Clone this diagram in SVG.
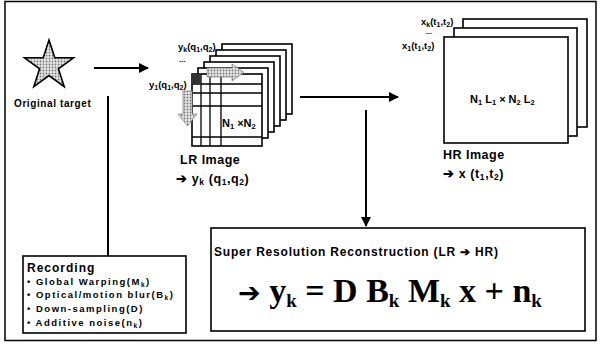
<svg xmlns="http://www.w3.org/2000/svg" width="600" height="347" viewBox="0 0 600 347">
<style>
.lbl{font-family:"Liberation Sans",Arial,sans-serif;font-weight:bold;fill:#000}
.page{fill:#fff;stroke:#000;stroke-width:1.6}
.grid{stroke:#000;stroke-width:1.3;fill:none}
.box{fill:#fff;stroke:#000;stroke-width:1.6}
.conn{stroke:#000;stroke-width:2;fill:none}
.frm{font-family:"Liberation Serif","Times New Roman",serif;font-weight:bold;fill:#000}
.rec{font-size:9.5px;letter-spacing:1.5px}
</style>
<defs>
<marker id="ah" viewBox="0 0 10 10" refX="9" refY="5" markerWidth="5" markerHeight="5" orient="auto" markerUnits="strokeWidth">
<path d="M0,0 L10,5 L0,10 z" fill="#000"/>
</marker>
<pattern id="dots" width="3" height="3" patternUnits="userSpaceOnUse">
<rect width="3" height="3" fill="#e6e6e6"/>
<circle cx="1.5" cy="1.5" r="0.9" fill="#777"/>
</pattern>
</defs>
<rect x="5" y="1.5" width="591" height="339" fill="#fff" stroke="#000" stroke-width="1.5"/>

<g id="target">
<polygon points="49,40 54.8,57.8 73.5,57.8 58.4,68.8 64.2,86.6 49,75.6 33.8,86.6 39.6,68.8 24.5,57.8 43.2,57.8" fill="url(#dots)" stroke="#000" stroke-width="1.6"/>
<text class="lbl" x="14" y="107" font-size="10" letter-spacing="0.6">Original target</text>
</g>

<g id="lr-image">
<rect class="page" x="222" y="44" width="70" height="70"/>
<rect class="page" x="216" y="50" width="70" height="70"/>
<rect class="page" x="210" y="56" width="70" height="70"/>
<rect class="page" x="204" y="62" width="70" height="70"/>
<rect class="page" x="198" y="68" width="70" height="70"/>
<rect class="page" x="192" y="74" width="70" height="72"/>
<path class="grid" d="M201,74V146M210,74V146M221,74V146M192,84H262M192,93H262M192,106H262M192,137H262"/>
<rect x="192" y="74" width="9" height="10" fill="#333"/>
<polygon points="207,68 232,68 232,64 244,72.5 232,81 232,77 207,77" fill="url(#dots)" stroke="#888" stroke-width="0.8"/>
<polygon points="183,91 192,91 192,114 197,114 187.5,126 178,114 183,114" fill="url(#dots)" stroke="#888" stroke-width="0.8"/>
<text class="lbl" x="222" y="127" font-size="11">N<tspan font-size="7.5" dy="2">1</tspan><tspan dy="-2"> ×N</tspan><tspan font-size="7.5" dy="2">2</tspan></text>
<text class="lbl" x="178" y="50" font-size="9.5">y<tspan font-size="7" dy="2">k</tspan><tspan dy="-2">(q</tspan><tspan font-size="7" dy="2">1</tspan><tspan dy="-2">,q</tspan><tspan font-size="7" dy="2">2</tspan><tspan dy="-2">)</tspan></text>
<text class="lbl" x="179" y="62" font-size="8">...</text>
<text class="lbl" x="149" y="88" font-size="9.5">y<tspan font-size="7" dy="2">1</tspan><tspan dy="-2">(q</tspan><tspan font-size="7" dy="2">1</tspan><tspan dy="-2">,q</tspan><tspan font-size="7" dy="2">2</tspan><tspan dy="-2">)</tspan></text>
<text class="lbl" x="180" y="164" font-size="12.5" letter-spacing="0.5">LR Image</text>
<text class="lbl" x="176" y="183" font-size="12.5" letter-spacing="0.6">➔ y<tspan font-size="8.5" dy="2">k</tspan><tspan dy="-2"> (q</tspan><tspan font-size="8.5" dy="2">1</tspan><tspan dy="-2">,q</tspan><tspan font-size="8.5" dy="2">2</tspan><tspan dy="-2">)</tspan></text>
</g>

<g id="hr-image">
<rect class="page" x="463" y="19" width="124" height="108"/>
<rect class="page" x="454" y="28" width="123" height="108"/>
<rect class="page" x="444" y="37" width="124" height="106"/>
<text class="lbl" x="470" y="103" font-size="11">N<tspan font-size="7.5" dy="2">1</tspan><tspan dy="-2"> L</tspan><tspan font-size="7.5" dy="2">1</tspan><tspan dy="-2"> × N</tspan><tspan font-size="7.5" dy="2">2</tspan><tspan dy="-2"> L</tspan><tspan font-size="7.5" dy="2">2</tspan></text>
<text class="lbl" x="421" y="25" font-size="9.5">x<tspan font-size="7" dy="2">k</tspan><tspan dy="-2">(t</tspan><tspan font-size="7" dy="2">1</tspan><tspan dy="-2">,t</tspan><tspan font-size="7" dy="2">2</tspan><tspan dy="-2">)</tspan></text>
<text class="lbl" x="426" y="34" font-size="7">...</text>
<text class="lbl" x="402" y="49" font-size="9.5">x<tspan font-size="7" dy="2">1</tspan><tspan dy="-2">(t</tspan><tspan font-size="7" dy="2">1</tspan><tspan dy="-2">,t</tspan><tspan font-size="7" dy="2">2</tspan><tspan dy="-2">)</tspan></text>
<text class="lbl" x="443" y="159" font-size="12.5" letter-spacing="0.5">HR Image</text>
<text class="lbl" x="443" y="178" font-size="12.5" letter-spacing="0.6">➔ x (t<tspan font-size="8.5" dy="2">1</tspan><tspan dy="-2">,t</tspan><tspan font-size="8.5" dy="2">2</tspan><tspan dy="-2">)</tspan></text>
</g>

<g id="recording">
<rect class="box" x="23" y="256" width="163" height="77"/>
<text class="lbl" x="27" y="272" font-size="12" letter-spacing="1">Recording</text>
<text class="lbl rec" x="27" y="285">• Global Warping(M<tspan font-size="6.5" dy="2">k</tspan><tspan dy="-2">)</tspan></text>
<text class="lbl rec" x="27" y="298">• Optical/motion blur(B<tspan font-size="6.5" dy="2">k</tspan><tspan dy="-2">)</tspan></text>
<text class="lbl rec" x="27" y="312">• Down-sampling(D)</text>
<text class="lbl rec" x="27" y="326">• Additive noise(n<tspan font-size="6.5" dy="2">k</tspan><tspan dy="-2">)</tspan></text>
</g>

<g id="sr">
<rect class="box" x="211" y="228" width="374" height="103" stroke-width="2.2"/>
<text class="lbl" x="214" y="256" font-size="12" letter-spacing="0.8">Super Resolution Reconstruction (LR ➔ HR)</text>
<text class="frm" x="238" y="302" font-size="34"><tspan font-family="DejaVu Sans" font-size="27">➔</tspan> y<tspan font-size="19" dy="5">k</tspan><tspan dy="-5"> = D B</tspan><tspan font-size="19" dy="5">k</tspan><tspan dy="-5"> M</tspan><tspan font-size="19" dy="5">k</tspan><tspan dy="-5"> x + n</tspan><tspan font-size="19" dy="5">k</tspan></text>
</g>

<g id="connectors">
<line class="conn" x1="94" y1="68" x2="148" y2="68" marker-end="url(#ah)"/>
<line class="conn" x1="300" y1="97" x2="398" y2="97" stroke-width="2.6" marker-end="url(#ah)"/>
<line class="conn" x1="366" y1="110" x2="366" y2="226" stroke-width="1.8" marker-end="url(#ah)"/>
<line class="conn" x1="108" y1="96" x2="108" y2="256" stroke-width="1.3"/>
</g>
</svg>
